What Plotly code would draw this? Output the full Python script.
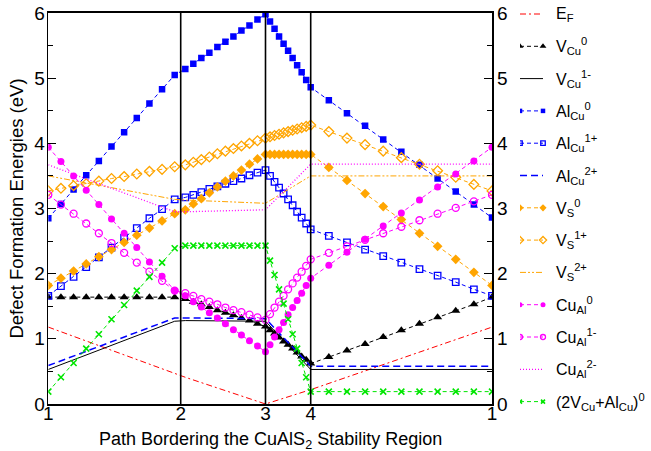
import numpy as np
import plotly.graph_objects as go

# ---- path geometry (path-length units along the stability-region border) ----
CORNER_POS = [0.0, 1.324, 2.172, 2.624, 4.437]
CORNER_LABELS = ["1", "2", "3", "4", "1"]
SEG_BOUNDS = [(0.0, 1.264), (1.370, 2.172), (2.172, 2.624), (2.624, 4.437)]
KEY_X = [0.0, 1.264, 1.370, 2.172, 2.624, 4.437]

# sample grid of the computed points (11 per segment, shared corners not repeated)
GRID_X = np.concatenate([
    np.linspace(*SEG_BOUNDS[0], 11),
    np.linspace(*SEG_BOUNDS[1], 11),
    np.linspace(*SEG_BOUNDS[2], 11)[1:],
    np.linspace(*SEG_BOUNDS[3], 11)[1:],
])

# ---- series (eV) ----
V_Cu_0 = [1.64]*11 + [1.61, 1.57, 1.53, 1.49, 1.44, 1.40, 1.36, 1.32, 1.28, 1.23, 1.19] \
    + [1.13, 1.08, 1.02, 0.96, 0.91, 0.85, 0.79, 0.73, 0.68, 0.62] \
    + [0.72, 0.82, 0.92, 1.03, 1.13, 1.23, 1.33, 1.43, 1.53, 1.64]
Al_Cu_0 = [2.85, 3.07, 3.29, 3.51, 3.73, 3.95, 4.17, 4.39, 4.61, 4.83, 5.05] \
    + [5.14, 5.22, 5.31, 5.39, 5.48, 5.56, 5.64, 5.73, 5.81, 5.90, 5.98] \
    + [5.87, 5.76, 5.64, 5.53, 5.42, 5.31, 5.20, 5.09, 4.97, 4.86] \
    + [4.66, 4.46, 4.27, 4.06, 3.87, 3.67, 3.46, 3.26, 3.06, 2.86]
Al_Cu_1p = [1.66, 1.81, 1.95, 2.10, 2.25, 2.40, 2.55, 2.70, 2.85, 2.99, 3.14] \
    + [3.17, 3.21, 3.25, 3.30, 3.34, 3.38, 3.42, 3.46, 3.51, 3.55, 3.59] \
    + [3.50, 3.41, 3.32, 3.23, 3.14, 3.05, 2.95, 2.86, 2.77, 2.68] \
    + [2.58, 2.48, 2.37, 2.27, 2.17, 2.07, 1.97, 1.87, 1.76, 1.66]
V_S_0 = [1.82, 1.93, 2.04, 2.15, 2.26, 2.37, 2.48, 2.59, 2.70, 2.81, 2.92] \
    + [2.98, 3.07, 3.15, 3.24, 3.33, 3.42, 3.50, 3.59, 3.68, 3.76, 3.83] \
    + [3.83]*10 \
    + [3.63, 3.43, 3.23, 3.03, 2.83, 2.62, 2.42, 2.22, 2.02, 1.82]
V_S_1p = [3.27, 3.31, 3.35, 3.38, 3.42, 3.46, 3.49, 3.53, 3.57, 3.60, 3.64] \
    + [3.67, 3.71, 3.75, 3.79, 3.84, 3.88, 3.92, 3.96, 4.00, 4.04, 4.08] \
    + [4.10, 4.12, 4.14, 4.16, 4.18, 4.20, 4.22, 4.24, 4.26, 4.28] \
    + [4.18, 4.08, 3.98, 3.88, 3.78, 3.68, 3.58, 3.48, 3.37, 3.27]
Cu_Al_0 = [3.94, 3.72, 3.50, 3.28, 3.06, 2.84, 2.62, 2.40, 2.18, 1.96, 1.74] \
    + [1.66, 1.57, 1.49, 1.40, 1.32, 1.23, 1.14, 1.06, 0.97, 0.89, 0.80] \
    + [0.91, 1.03, 1.14, 1.25, 1.37, 1.48, 1.59, 1.70, 1.82, 1.93] \
    + [2.13, 2.33, 2.53, 2.73, 2.93, 3.13, 3.33, 3.53, 3.73, 3.94]
Cu_Al_1m = [3.21, 3.06, 2.92, 2.77, 2.62, 2.47, 2.32, 2.17, 2.03, 1.89, 1.74] \
    + [1.70, 1.66, 1.61, 1.57, 1.53, 1.48, 1.44, 1.41, 1.37, 1.33, 1.29] \
    + [1.38, 1.48, 1.57, 1.66, 1.76, 1.85, 1.94, 2.03, 2.12, 2.22] \
    + [2.32, 2.42, 2.52, 2.62, 2.72, 2.82, 2.92, 3.01, 3.11, 3.21]
Complex_0 = [0.19, 0.41, 0.63, 0.85, 1.07, 1.30, 1.52, 1.74, 1.95, 2.17, 2.39] \
    + [2.43]*11 \
    + [2.20, 1.98, 1.76, 1.54, 1.30, 1.07, 0.85, 0.63, 0.41, 0.19] \
    + [0.19]*10

# lines drawn without markers: values at KEY_X
E_F = [1.18, 0.46, 0.41, 0.00, 0.22, 1.18]
V_Cu_1m = [0.53, 1.27, 1.28, 1.27, 0.53, 0.53]
Al_Cu_2p = [0.59, 1.32, 1.32, 1.31, 0.58, 0.58]
V_S_2p = [3.50, 3.14, 3.13, 3.08, 3.50, 3.50]
Cu_Al_2m = [3.67, 2.95, 2.95, 2.98, 3.68, 3.68]

BLUE = "#0000ff"
ORANGE = "#ffa500"
MAGENTA = "#ff00ff"
GREEN = "#00e600"
RED = "#ff0000"
BLACK = "#000000"
FONT = "Liberation Sans, Arial, Helvetica, sans-serif"
W, H = 651, 451

# (label, x, y, color, dash, width, symbol, size, marker-line)
SERIES = [
    ("E<sub>F</sub>", KEY_X, E_F, RED, "6px,3px,2px,3px", 1, None, 0, 0),
    ("V<sub>Cu</sub><sup>0</sup>", GRID_X, V_Cu_0, BLACK, "4px,3px", 1, "triangle-up", 8, 0),
    ("V<sub>Cu</sub><sup>1-</sup>", KEY_X, V_Cu_1m, BLACK, "solid", 1, None, 0, 0),
    ("Al<sub>Cu</sub><sup>0</sup>", GRID_X, Al_Cu_0, BLUE, "4px,3px", 1, "square", 6.5, 0),
    ("Al<sub>Cu</sub><sup>1+</sup>", GRID_X, Al_Cu_1p, BLUE, "4px,3px", 1, "square-open", 6.5, 1.3),
    ("Al<sub>Cu</sub><sup>2+</sup>", KEY_X, Al_Cu_2p, BLUE, "7px,4px", 1.5, None, 0, 0),
    ("V<sub>S</sub><sup>0</sup>", GRID_X, V_S_0, ORANGE, "4px,3px", 1, "diamond", 7.5, 0),
    ("V<sub>S</sub><sup>1+</sup>", GRID_X, V_S_1p, ORANGE, "4px,3px", 1, "diamond-open", 7.5, 1.3),
    ("V<sub>S</sub><sup>2+</sup>", KEY_X, V_S_2p, ORANGE, "6px,2px,2px,2px,2px,2px", 1, None, 0, 0),
    ("Cu<sub>Al</sub><sup>0</sup>", GRID_X, Cu_Al_0, MAGENTA, "4px,3px", 1, "circle", 7, 0),
    ("Cu<sub>Al</sub><sup>1-</sup>", GRID_X, Cu_Al_1m, MAGENTA, "4px,3px", 1, "circle-open", 7, 1.3),
    ("Cu<sub>Al</sub><sup>2-</sup>", KEY_X, Cu_Al_2m, MAGENTA, "1px,2px", 1.3, None, 0, 0),
    ("(2V<sub>Cu</sub>+Al<sub>Cu</sub>)<sup>0</sup>", GRID_X, Complex_0, GREEN, "4px,3px", 1,
     "x-thin", 6, 1.6),
]

fig = go.Figure()

for i, (name, x, y, color, dash, width, symbol, size, mline) in enumerate(SERIES):
    marker = None
    if symbol:
        marker = dict(symbol=symbol, size=size, color=color,
                      line=dict(color=color, width=mline))
    fig.add_trace(go.Scatter(
        x=list(x), y=y, mode="lines+markers" if symbol else "lines", name=name,
        line=dict(color=color, dash=dash, width=width), marker=marker,
        showlegend=False, hoverinfo="skip"))
    # hand-drawn legend sample (line with a marker at each end)
    lmarker = None
    if symbol:
        lmarker = dict(symbol=symbol, size=max(size - 2, 4), color=color,
                       line=dict(color=color, width=mline))
    fig.add_trace(go.Scatter(
        x=[0.0, 1.0], y=[i, i], xaxis="x3", yaxis="y3",
        mode="lines+markers" if symbol else "lines",
        line=dict(color=color, dash=dash, width=width), marker=lmarker,
        showlegend=False, hoverinfo="skip"))
    fig.add_annotation(xref="x3", yref="y3", x=1.478, y=i, text=name,
                       showarrow=False, xanchor="left", yanchor="middle",
                       font=dict(size=16, color=BLACK, family=FONT))

# invisible trace to activate the right-hand axis
fig.add_trace(go.Scatter(x=[CORNER_POS[0]], y=[0], yaxis="y2", mode="markers",
                         marker=dict(opacity=0), showlegend=False, hoverinfo="skip"))

# vertical lines at corners 2, 3, 4
for xv in CORNER_POS[1:4]:
    fig.add_shape(type="line", xref="x", yref="y", x0=xv, x1=xv, y0=0, y1=6,
                  line=dict(color=BLACK, width=1.6))

X_DOMAIN = [48.3 / W, 492.0 / W]
Y_DOMAIN = [(H - 404.0) / H, (H - 13.0) / H]

yaxis_common = dict(
    range=[0, 6], dtick=1, tick0=0, ticks="inside", ticklen=8, tickwidth=1.3,
    tickcolor=BLACK, showgrid=False, zeroline=False, domain=Y_DOMAIN,
    tickfont=dict(size=19, color=BLACK, family=FONT), automargin=False,
    ticklabeloverflow="allow",
    minor=dict(dtick=0.5, ticks="inside", ticklen=5, tickwidth=1.1, tickcolor=BLACK),
)

fig.add_annotation(xref="paper", yref="paper", x=sum(X_DOMAIN) / 2,
                   y=1 - 440.0 / H,
                   text="Path Bordering the CuAlS<sub>2</sub> Stability Region",
                   showarrow=False, xanchor="center", yanchor="middle",
                   font=dict(size=18, color=BLACK, family=FONT))

fig.update_layout(
    width=W, height=H,
    margin=dict(l=0, r=0, t=0, b=0, pad=0),
    paper_bgcolor="white", plot_bgcolor="white",
    font=dict(family=FONT, color=BLACK),
    showlegend=False,
    xaxis=dict(
        domain=X_DOMAIN, range=[CORNER_POS[0], CORNER_POS[-1]],
        tickvals=CORNER_POS, ticktext=CORNER_LABELS, ticks="",
        tickfont=dict(size=19, color=BLACK, family=FONT), ticklabelstandoff=-8,
        showline=True, mirror=True, linecolor=BLACK, linewidth=1.6,
        showgrid=False, zeroline=False, automargin=False,
    ),
    yaxis=dict(
        **yaxis_common, ticklabelstandoff=-2,
        showline=True, mirror=True, linecolor=BLACK, linewidth=1.6,
        title=dict(text="Defect Formation Energies (eV)",
                   font=dict(size=18.5, color=BLACK, family=FONT), standoff=6),
    ),
    yaxis2=dict(**yaxis_common, ticklabelstandoff=4, overlaying="y", side="right",
                showline=False, matches="y", anchor="x"),
    # legend area
    xaxis3=dict(domain=[520.0 / W, 1.0], range=[0, (W - 520.0) / 23.0],
                visible=False, fixedrange=True),
    yaxis3=dict(domain=[0, 1], range=[(H - 14.0) / 32.3, -14.0 / 32.3], visible=False,
                fixedrange=True, anchor="x3"),
)

# remove the default 8px page margin so the figure fills the window exactly
fig.write_html("out.html",
               config={"displayModeBar": False, "staticPlot": True},
               post_script="document.body.style.margin='0';"
                           "document.body.style.overflow='hidden';")
